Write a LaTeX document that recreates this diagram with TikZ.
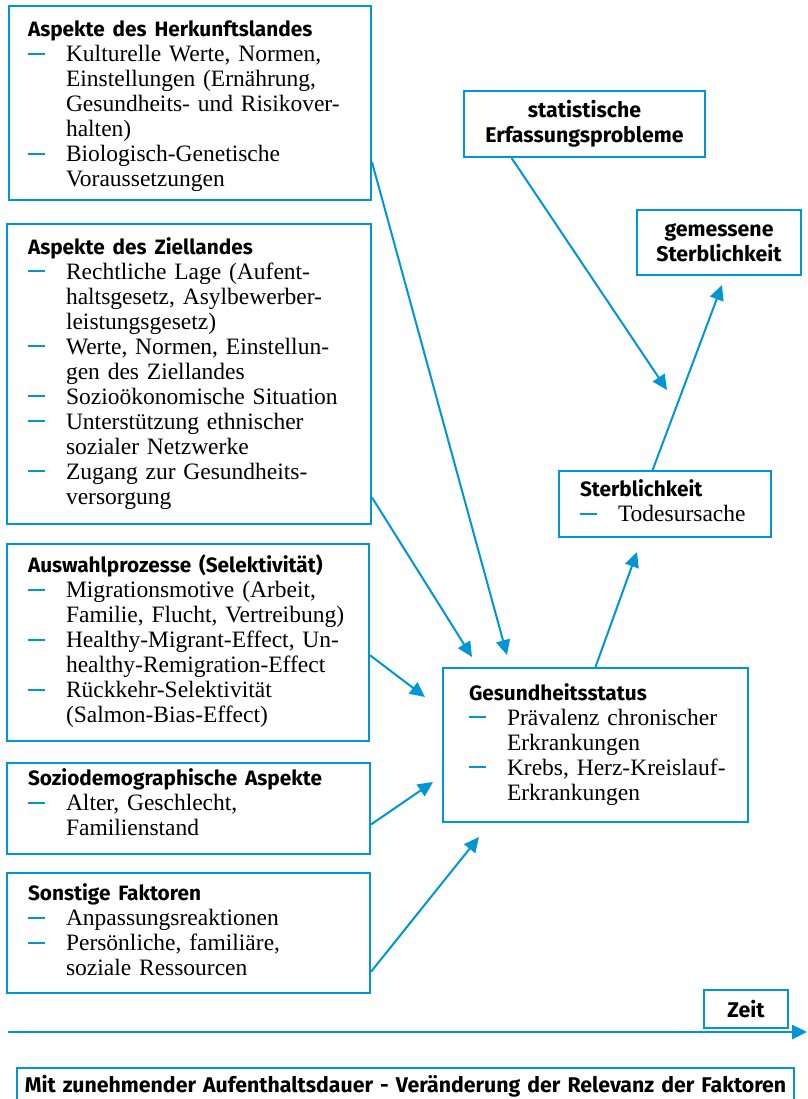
\documentclass[tikz,border=0pt]{standalone}
\usepackage{fontspec}
\setmainfont{Liberation Serif}
\newfontfamily\kopffont{Fira Sans}
\usetikzlibrary{arrows.meta}
\definecolor{zblau}{RGB}{0,150,214}
\newcommand{\kopf}[1]{{\kopffont\bfseries\fontsize{20.8}{25}\selectfont #1}}
\newcommand{\blaustrich}{\textcolor{zblau}{\rule[7pt]{17pt}{2pt}}}
\newenvironment{punkte}{\begin{tabular}{@{}p{38pt}@{}l@{}}}{\end{tabular}}

\begin{document}
\begin{tikzpicture}[x=1pt, y=-1pt,
    box/.style={draw=zblau, line width=2pt, anchor=north west, inner ysep=0pt,
        align=left, font=\fontsize{23.5}{25}\selectfont},
    titel/.style={draw=zblau, line width=2pt, anchor=north west, inner sep=0pt,
        align=center, font=\kopffont\bfseries\fontsize{21.3}{25}\selectfont},
    pfeil/.style={draw=zblau, line width=2pt, -{Triangle[length=15pt,width=14pt]}}]
    \useasboundingbox (0,0) rectangle (807,1099);

    % Einflussfaktoren links
    \node[box, inner xsep=19pt, text width=324pt, minimum height=194pt] (herkunft) at (8,5) {%
        \begin{punkte}
            \multicolumn{2}{@{}l@{}}{\rule{0pt}{25.5pt}\kopf{Aspekte des Herkunftslandes}}\\
            \blaustrich & Kulturelle Werte, Normen,\\
            & Einstellungen (Ernährung,\\
            & Gesundheits- und Risikover-\\
            & halten)\\
            \blaustrich & Biologisch-Genetische\\
            & Voraussetzungen
        \end{punkte}};
    \node[box, inner xsep=21pt, text width=322pt, minimum height=300pt] (ziel) at (6,223) {%
        \begin{punkte}
            \multicolumn{2}{@{}l@{}}{\kopf{Aspekte des Ziellandes}}\\
            \blaustrich & Rechtliche Lage (Aufent-\\
            & haltsgesetz, Asylbewerber-\\
            & leistungsgesetz)\\
            \blaustrich & Werte, Normen, Einstellun-\\
            & gen des Ziellandes\\
            \blaustrich & Sozioökonomische Situation\\
            \blaustrich & Unterstützung ethnischer\\
            & sozialer Netzwerke\\
            \blaustrich & Zugang zur Gesundheits-\\
            & versorgung
        \end{punkte}};
    \node[box, inner xsep=21pt, text width=320pt, minimum height=197pt] (auswahl) at (6,543) {%
        \begin{punkte}
            \multicolumn{2}{@{}l@{}}{\kopf{Auswahlprozesse (Selektivität)}}\\
            \blaustrich & Migrationsmotive (Arbeit,\\
            & Familie, Flucht, Vertreibung)\\
            \blaustrich & Healthy-Migrant-Effect, Un-\\
            & healthy-Remigration-Effect\\
            \blaustrich & Rückkehr-Selektivität\\
            & (Salmon-Bias-Effect)
        \end{punkte}};
    \node[box, inner xsep=21pt, text width=321pt, minimum height=91pt] (sozio) at (6,762) {%
        \begin{punkte}
            \multicolumn{2}{@{}l@{}}{\kopf{Soziodemographische Aspekte}}\\
            \blaustrich & Alter, Geschlecht,\\
            & Familienstand\rule[-13pt]{0pt}{0pt}
        \end{punkte}};
    \node[box, inner xsep=21pt, text width=321pt, minimum height=120pt] (sonstige) at (6,872) {%
        \begin{punkte}
            \multicolumn{2}{@{}l@{}}{\kopf{Sonstige Faktoren}}\\
            \blaustrich & Anpassungsreaktionen\\
            \blaustrich & Persönliche, familiäre,\\
            & soziale Ressourcen
        \end{punkte}};

    % Status und Sterblichkeit
    \node[box, inner xsep=26pt, text width=253pt, minimum height=154pt] (gesund) at (442,667) {%
        \begin{punkte}
            \multicolumn{2}{@{}l@{}}{\kopf{Gesundheitsstatus}}\\
            \blaustrich & Prävalenz chronischer\\
            & Erkrankungen\\
            \blaustrich & Krebs, Herz-Kreislauf-\\
            & Erkrankungen
        \end{punkte}};
    \node[box, inner xsep=21pt, text width=170pt, minimum height=66pt] (sterb) at (558,470) {%
        \begin{punkte}
            \multicolumn{2}{@{}l@{}}{\kopf{Sterblichkeit}}\\
            \blaustrich & Todesursache
        \end{punkte}};
    \node[titel, text width=241pt, minimum height=66pt] (statistik) at (463,90) {statistische\\Erfassungsprobleme};
    \node[titel, text width=164pt, minimum height=65pt] (gemessen) at (636,209) {gemessene\\Sterblichkeit};

    % Zeitachse
    \node[titel, text width=84pt, minimum height=38pt] (zeit) at (703,989) {Zeit};
    \coordinate (zeitanfang) at (8,1032);
    \coordinate (zeitende) at (807,1032);
    \draw[pfeil, line width=2.5pt] (zeitanfang) -- (zeitende);
    \node[titel, text width=777pt, minimum height=36pt] (dauer) at (16,1067)
        {Mit zunehmender Aufenthaltsdauer - Veränderung der Relevanz der Faktoren};

    % Pfeilspitzen
    \coordinate (zuHerkunft) at (507,655);
    \coordinate (zuZiel) at (472,657);
    \coordinate (zuAuswahl) at (425,697);
    \coordinate (zuSozio) at (433,782);
    \coordinate (zuSonstige) at (479,837);
    \coordinate (zuSterb) at (637,552);
    \coordinate (zuGemessen) at (722,285);
    \coordinate (zuStatistik) at (667,390);

    \draw[pfeil] (herkunft.-18.6) -- (zuHerkunft);
    \draw[pfeil] (ziel.-34.9) -- (zuZiel);
    \draw[pfeil] (auswahl.-4.3) -- (zuAuswahl);
    \draw[pfeil] (sozio.-5.5) -- (zuSozio);
    \draw[pfeil] (sonstige.-12.7) -- (zuSonstige);
    \draw[pfeil] (gesund.north) -- (zuSterb);
    \draw[pfeil] (sterb.110) -- (zuGemessen);
    \draw[pfeil] (statistik.-155.2) -- (zuStatistik);
\end{tikzpicture}
\end{document}
